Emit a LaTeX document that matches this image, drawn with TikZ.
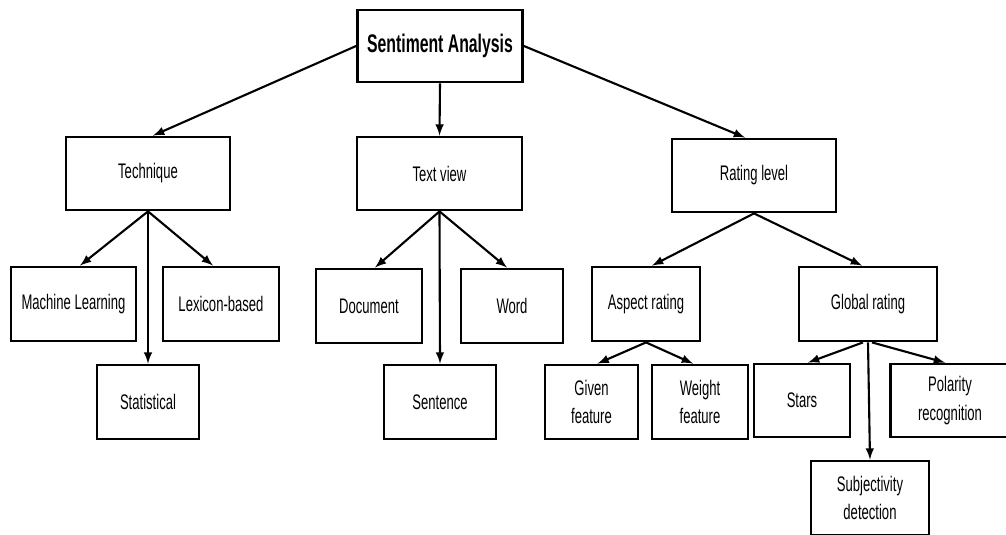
\documentclass[tikz,border=0pt]{standalone}
\usepackage{fontspec}
\setmainfont{Liberation Sans}[FakeStretch=0.62]
\usepackage{tikz}

\begin{document}
\begin{tikzpicture}[
    box/.style={rectangle,draw=black,line width=1.6pt,inner sep=0pt,minimum height=1.48cm,align=center,font=\fontsize{12}{16}\selectfont},
    arr/.style={line width=1.2pt,-latex}
  ]

      \useasboundingbox (0,0) rectangle (20.12,-10.68);

      \node[box,minimum width=3.3cm,minimum height=1.44cm,font=\fontsize{14.5}{16}\selectfont\bfseries] (sa) at (8.8,-0.92){Sentiment Analysis};

      \node[box,minimum width=3.28cm,minimum height=1.46cm] (tech) at (2.96,-3.47){Technique};
      \node[box,minimum width=3.3cm,minimum height=1.46cm] (tview) at (8.79,-3.47){Text view};
      \node[box,minimum width=3.28cm,minimum height=1.46cm] (rating) at (15.08,-3.51){Rating level};

      \node[box,minimum width=2.5cm] (ml) at (1.47,-6.08){Machine Learning};
      \node[box,minimum width=2.32cm] (lex) at (4.42,-6.08){Lexicon-based};
      \node[box,minimum width=2.04cm] (stat) at (2.96,-8.04){Statistical};

      \node[box,minimum width=2.12cm] (doc) at (7.38,-6.12){Document};
      \node[box,minimum width=2.04cm] (word) at (10.24,-6.12){Word};
      \node[box,minimum width=2.24cm] (sent) at (8.8,-8.04){Sentence};

      \node[box,minimum width=2.16cm] (aspect) at (12.92,-6.08){Aspect rating};
      \node[box,minimum width=2.76cm] (global) at (17.36,-6.08){Global rating};

      \node[box,minimum width=1.86cm] (given) at (11.83,-8.04){Given\\feature};
      \node[box,minimum width=1.92cm] (weight) at (14.0,-8.04){Weight\\feature};
      \node[box,minimum width=1.92cm,minimum height=1.46cm] (stars) at (16.04,-8.01){Stars};
      \node[box,minimum width=2.38cm,minimum height=1.46cm] (polar) at (19.0,-8.01){Polarity\\recognition};
      \node[box,minimum width=2.36cm] (subj) at (17.4,-9.96){Subjectivity\\detection};

      \draw[arr] (sa.west) -- ([xshift=0.1cm]tech.north);
      \draw[arr] (sa.south) -- (tview.north);
      \draw[arr] (sa.east) -- ([xshift=-0.18cm]rating.north);

      \draw[arr] (tech.south) -- ([xshift=0.13cm]ml.north);
      \draw[arr] (tech.south) -- ([xshift=-0.16cm]lex.north);
      \draw[arr] (tech.south) -- (stat.north);

      \draw[arr] (tview.south) -- ([xshift=0.12cm]doc.north);
      \draw[arr] (tview.south) -- ([xshift=-0.1cm]word.north);
      \draw[arr] (tview.south) -- (sent.north);

      \draw[arr] (rating.south) -- ([xshift=0.12cm]aspect.north);
      \draw[arr] (rating.south) -- ([xshift=-0.12cm]global.north);

      \draw[arr] (aspect.south) -- ([xshift=0.12cm]given.north);
      \draw[arr] (aspect.south) -- ([xshift=-0.14cm]weight.north);

      \draw[arr] ([xshift=-0.1cm]global.south) -- ([xshift=0.12cm]stars.north);
      \draw[arr] ([xshift=0.08cm]global.south) -- ([xshift=-0.1cm]polar.north);
      \draw[arr] (global.south) -- (subj.north);
    \end{tikzpicture}
\end{document}
